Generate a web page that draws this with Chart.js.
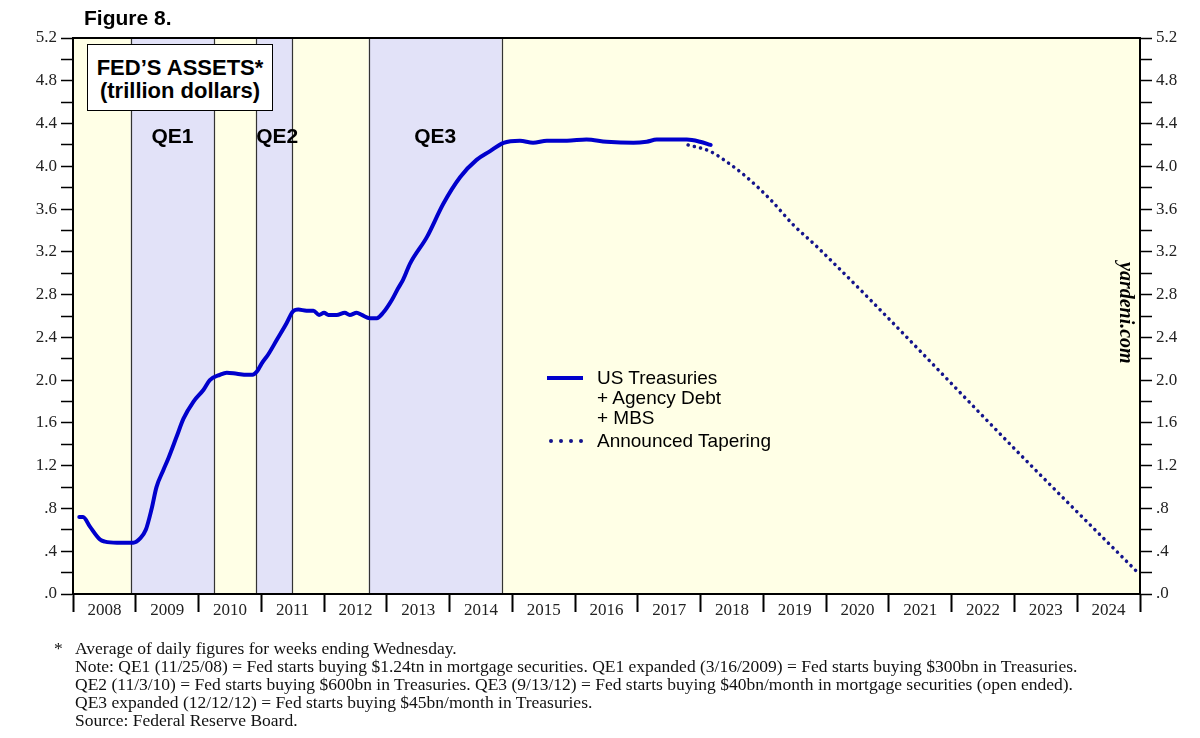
<!DOCTYPE html>
<html>
<head>
<meta charset="utf-8">
<script src="https://cdn.jsdelivr.net/npm/chart.js@4.4.1/dist/chart.umd.min.js"></script>
<style>
  html,body{margin:0;padding:0;background:#fff;}
  #wrap{position:relative;width:1200px;height:738px;background:#fff;overflow:hidden;}
  #c{position:absolute;left:0;top:0;}
  .ov{position:absolute;white-space:nowrap;}
  .sans{font-family:"Liberation Sans",Arial,sans-serif;color:#000;}
  .serif{font-family:"Liberation Serif","Times New Roman",serif;color:#111;}
  .dot{position:absolute;width:4px;height:4px;border-radius:50%;background:#14148c;}
</style>
</head>
<body>
<div id="wrap">
  <canvas id="c"></canvas>
  <div class="ov sans" style="left:84px;top:5px;font-size:21px;font-weight:bold;line-height:26px;">Figure 8.</div>
  <div class="ov sans" style="left:87px;top:44px;width:186px;height:67px;box-sizing:border-box;border:1.5px solid #000;background:#fff;font-size:22px;font-weight:bold;line-height:23px;text-align:center;padding-top:11px;">FED’S ASSETS*<br>(trillion dollars)</div>

  <div class="ov" style="left:547px;top:376px;width:36px;height:4px;background:#0000cc;"></div>
  <div class="ov sans" style="left:597px;top:368px;font-size:19px;line-height:20px;">US Treasuries<br>+ Agency Debt<br>+ MBS</div>
  <div class="dot" style="left:549px;top:439px;"></div>
  <div class="dot" style="left:559px;top:439px;"></div>
  <div class="dot" style="left:569px;top:439px;"></div>
  <div class="dot" style="left:579px;top:439px;"></div>
  <div class="ov sans" style="left:597px;top:430px;font-size:19px;line-height:22px;">Announced Tapering</div>

  <div class="ov serif" style="left:1115px;top:262px;font-size:20px;font-weight:bold;font-style:italic;writing-mode:vertical-rl;color:#000;">yardeni.com</div>

  <div class="ov serif" style="left:54px;top:639px;font-size:17.5px;line-height:18px;">*</div>
  <div class="ov serif" style="left:75px;top:639px;font-size:17.5px;line-height:18px;">
    Average of daily figures for weeks ending Wednesday.<br>
    Note: QE1 (11/25/08) = Fed starts buying $1.24tn in mortgage securities. QE1 expanded (3/16/2009) = Fed starts buying $300bn in Treasuries.<br>
    QE2 (11/3/10) = Fed starts buying $600bn in Treasuries. QE3 (9/13/12) = Fed starts buying $40bn/month in mortgage securities (open ended).<br>
    QE3 expanded (12/12/12) = Fed starts buying $45bn/month in Treasuries.<br>
    Source: Federal Reserve Board.
  </div>
</div>
<script>
// ---- Data ----
const yearLabels = [2008,2009,2010,2011,2012,2013,2014,2015,2016,2017,2018,2019,2020,2021,2022,2023,2024];

const assetDates = [2008.10,2008.16,2008.27,2008.43,2008.51,2008.70,2008.96,2009.07,2009.16,2009.25,
  2009.33,2009.44,2009.52,2009.65,2009.76,2009.92,2010.08,2010.18,2010.34,2010.45,
  2010.61,2010.77,2010.86,2010.93,2011.01,2011.11,2011.25,2011.40,2011.50,2011.59,
  2011.72,2011.83,2011.92,2012.00,2012.07,2012.20,2012.33,2012.41,2012.52,2012.60,
  2012.73,2012.84,2012.94,2013.08,2013.18,2013.26,2013.37,2013.64,2013.90,2014.17,
  2014.43,2014.64,2014.86,2015.12,2015.33,2015.55,2015.87,2016.18,2016.50,2016.93,
  2017.14,2017.30,2017.57,2017.78,2017.99,2018.16];
const assetValues = [0.72,0.72,0.63,0.51,0.49,0.48,0.48,0.52,0.60,0.79,
  1.00,1.16,1.27,1.47,1.64,1.80,1.91,2.00,2.05,2.07,
  2.06,2.05,2.05,2.08,2.16,2.24,2.38,2.53,2.64,2.66,
  2.65,2.65,2.61,2.63,2.61,2.61,2.63,2.61,2.63,2.61,
  2.58,2.58,2.63,2.75,2.86,2.94,3.09,3.34,3.65,3.90,
  4.06,4.14,4.22,4.24,4.22,4.24,4.24,4.25,4.23,4.22,
  4.23,4.25,4.25,4.25,4.23,4.20];

const taperDates = [2017.80,2018.15,2018.42,2018.73,2019.11,2019.48,2019.85,2023.25,2025.00];
const taperValues = [4.20,4.14,4.04,3.90,3.69,3.45,3.25,1.21,0.18];

const qeNames = ['QE1','QE2','QE3'];
const qeStarts = [2008.92,2010.92,2012.71];
const qeEnds = [2010.25,2011.49,2014.83];

// ---- Helpers ----
const SERIF = '"Liberation Serif","Times New Roman",serif';
const SANS = '"Liberation Sans",Arial,sans-serif';

const yTickValues = [];
for (let i = 0; i <= 26; i++) yTickValues.push(Math.round(i * 2) / 10);
const xTickValues = [];
yearLabels.forEach(y => { xTickValues.push(y); xTickValues.push(y + 0.5); });
xTickValues.push(yearLabels[yearLabels.length - 1] + 1);

function yLabel(v) {
  const r = Math.round(v * 10);
  if (r % 4 !== 0) return '';
  const s = (r / 10).toFixed(1);
  return s.startsWith('0') ? s.slice(1) : s;
}

const bgPlugin = {
  id: 'bgPlugin',
  beforeDraw(chart) {
    const {ctx, chartArea: a, scales: {x}} = chart;
    ctx.save();
    ctx.fillStyle = '#FFFFE6';
    ctx.fillRect(a.left, a.top, a.right - a.left, a.bottom - a.top);
    ctx.fillStyle = '#E2E2F8';
    qeStarts.forEach((s, i) => {
      const x0 = x.getPixelForValue(s), x1 = x.getPixelForValue(qeEnds[i]);
      ctx.fillRect(x0, a.top, x1 - x0, a.bottom - a.top);
    });
    ctx.strokeStyle = '#333';
    ctx.lineWidth = 1.2;
    [...qeStarts, ...qeEnds].forEach(v => {
      const px = Math.round(x.getPixelForValue(v)) + 0.5;
      ctx.beginPath(); ctx.moveTo(px, a.top); ctx.lineTo(px, a.bottom); ctx.stroke();
    });
    ctx.fillStyle = '#000';
    ctx.font = 'bold 21px ' + SANS;
    ctx.textAlign = 'center';
    ctx.textBaseline = 'middle';
    const yPix = chart.scales.y.getPixelForValue(4.27);
    qeNames.forEach((n, i) => {
      const cx = (x.getPixelForValue(qeStarts[i]) + x.getPixelForValue(qeEnds[i])) / 2;
      ctx.fillText(n, cx + (i === 1 ? 3 : 0), yPix);
    });
    ctx.restore();
  },
  afterDatasetsDraw(chart) {
    const {ctx, chartArea: a} = chart;
    ctx.save();
    ctx.strokeStyle = '#000';
    ctx.lineWidth = 2;
    ctx.strokeRect(a.left, a.top, a.right - a.left, a.bottom - a.top);
    ctx.restore();
  }
};

function yAxis(position, width) {
  return {
    type: 'linear',
    position: position,
    min: 0, max: 5.2,
    afterBuildTicks: s => { s.ticks = yTickValues.map(v => ({value: v})); },
    afterFit: s => { s.width = width; },
    ticks: {
      autoSkip: false,
      callback: v => yLabel(v),
      font: {family: SERIF, size: 17},
      color: '#222',
      padding: 4
    },
    grid: {drawOnChartArea: false, drawTicks: true, tickLength: 12, tickColor: '#000', tickWidth: 1.5},
    border: {display: true, color: '#000', width: 2}
  };
}

new Chart(document.getElementById('c'), {
  type: 'line',
  data: {
    datasets: [
      {
        label: 'US Treasuries + Agency Debt + MBS',
        data: assetDates.map((d, i) => ({x: d, y: assetValues[i]})),
        borderColor: '#0000CC',
        borderWidth: 4,
        pointRadius: 0,
        cubicInterpolationMode: 'monotone',
        borderCapStyle: 'round',
        borderJoinStyle: 'round',
        yAxisID: 'y'
      },
      {
        label: 'Announced Tapering',
        data: taperDates.map((d, i) => ({x: d, y: taperValues[i]})),
        borderColor: '#14148C',
        borderWidth: 3.5,
        borderDash: [0.1, 6.3],
        borderCapStyle: 'round',
        pointRadius: 0,
        cubicInterpolationMode: 'monotone',
        yAxisID: 'y'
      }
    ]
  },
  options: {
    responsive: true,
    maintainAspectRatio: false,
    animation: false,
    layout: {padding: {top: 38, bottom: 114, left: 0, right: 0}},
    plugins: {legend: {display: false}, tooltip: {enabled: false}},
    scales: {
      x: {
        type: 'linear',
        min: 2008, max: 2025,
        afterBuildTicks: s => { s.ticks = xTickValues.map(v => ({value: v})); },
        afterFit: s => { s.height = 30; },
        ticks: {
          autoSkip: false, maxRotation: 0, minRotation: 0,
          callback: v => (Math.abs(v - Math.round(v)) < 0.01 ? '' : String(Math.floor(v))),
          font: {family: SERIF, size: 17},
          color: '#222',
          padding: -12
        },
        grid: {
          drawOnChartArea: false, drawTicks: true, tickLength: 18, tickWidth: 2,
          tickColor: c => (c.tick && Math.abs(c.tick.value - Math.round(c.tick.value)) < 0.01 ? '#000' : 'rgba(0,0,0,0)')
        },
        border: {display: true, color: '#000', width: 2}
      },
      y: yAxis('left', 73),
      y2: yAxis('right', 60)
    }
  },
  plugins: [bgPlugin]
});
</script>
</body>
</html>
